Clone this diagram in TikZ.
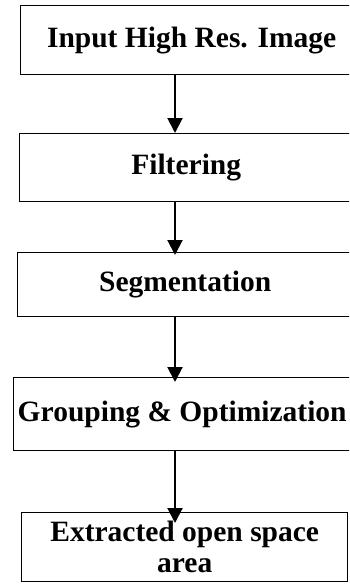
\documentclass[tikz,border=0pt]{standalone}
\usepackage{fontspec}
\setmainfont{Liberation Serif}
\usetikzlibrary{arrows.meta, positioning}

\begin{document}
\begin{tikzpicture}[x=1pt, y=-1pt,
  stage/.style={draw=black, line width=1.4pt, fill=white, anchor=north west,
                font=\fontsize{29.5}{31}\selectfont\bfseries, align=center, inner sep=0pt},
  arr/.style={-{Triangle[length=15pt, width=15pt]}, line width=2pt, black}]
  \useasboundingbox (0,0) rectangle (349,586);
  \clip (0,0) rectangle (349,586);
  \node[stage, minimum width=342pt, minimum height=69pt] (s1) at (20,5) {Input High Res. Image};
  \node[stage, minimum width=333pt, minimum height=68pt] (s2) at (19,133) {Filtering};
  \node[stage, minimum width=335pt, minimum height=64pt] (s3) at (17,252) {Segmentation};
  \node[stage, minimum width=337pt, minimum height=73pt] (s4) at (13,377) {Grouping \& Optimization};
  \node[stage, minimum width=326pt, minimum height=69pt] (s5) at (21,512) {Extracted open space\\area};
  % all arrows run down one vertical line
  \coordinate (spine) at (175,0);
  \foreach \a/\b/\d in {s1/s2/0, s2/s3/3, s3/s4/5, s4/s5/11}
    \draw[arr] (\a.south -| spine) -- ([yshift=-\d pt]\b.north -| spine);
\end{tikzpicture}
\end{document}
